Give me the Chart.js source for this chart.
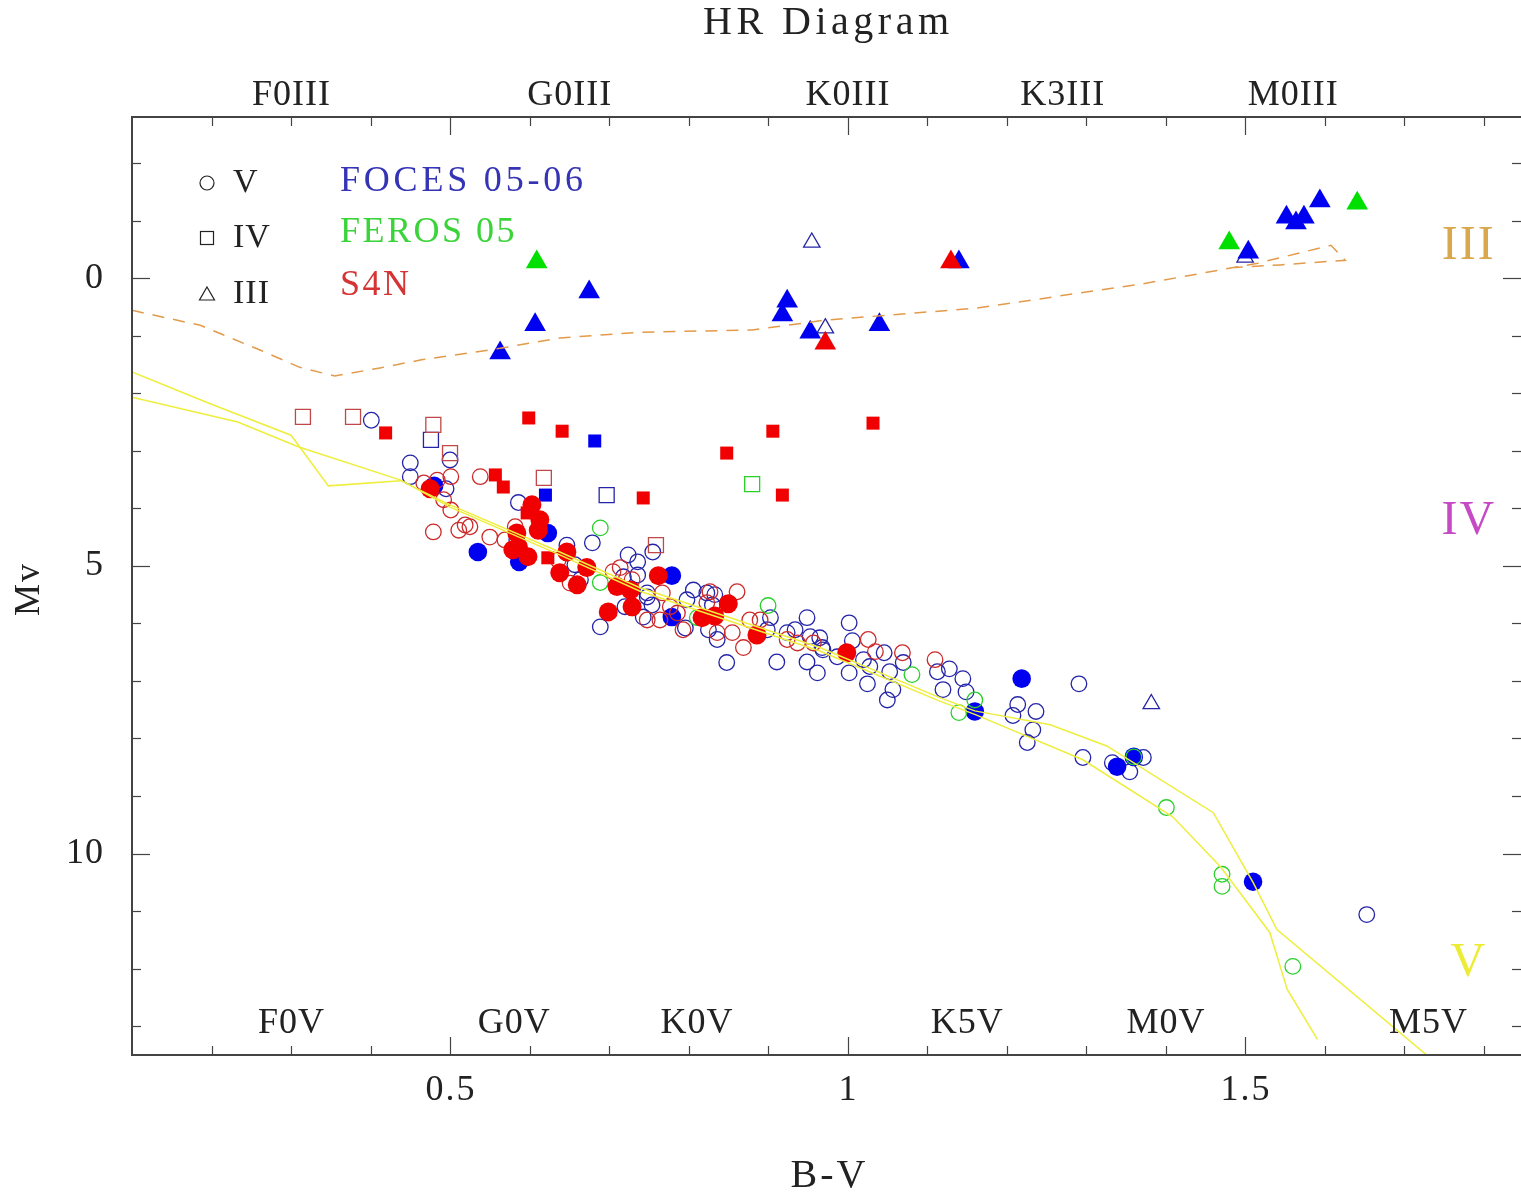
<!DOCTYPE html>
<html><head><meta charset="utf-8">
<script src="https://cdn.jsdelivr.net/npm/chart.js@4.4.1/dist/chart.umd.min.js"></script>
<style>html,body{margin:0;padding:0;background:#fff;overflow:hidden}canvas{display:block}</style>
</head><body>
<canvas id="c" width="1521" height="1195"></canvas>
<script>
// ---------- axis ticks ----------
const xTickValues = [0.2,0.3,0.4,0.5,0.6,0.7,0.8,0.9,1.0,1.1,1.2,1.3,1.4,1.5,1.6,1.7,1.8];
const xMajorTicks = [0.5,1,1.5];
const xTickLabels = ['0.5','1','1.5'];
const yTickValues = [-2,-1,0,1,2,3,4,5,6,7,8,9,10,11,12,13];
const yMajorTicks = [0,5,10];
const yTickLabels = ['0','5','10'];

// spectral-type labels
const giantTypes = ['F0III','G0III','K0III','K3III','M0III'];
const giantTypeBV = [0.30,0.65,1.00,1.27,1.56];
const dwarfTypes = ['F0V','G0V','K0V','K5V','M0V','M5V'];
const dwarfTypeBV = [0.30,0.58,0.81,1.15,1.40,1.73];
const classNames = ['III','IV','V'];
const classMv = [-0.56,4.22,11.9];

// ---------- reference sequences ----------
const msUpperBV = [0.10,0.196,0.30,0.347,0.438,0.50,0.638,0.739,0.965,1.116,1.160,1.255,1.326,1.46,1.51,1.54,1.73];
const msUpperMv = [1.63,2.17,2.73,3.61,3.52,3.94,4.76,5.38,6.42,7.29,7.52,7.76,8.13,9.29,10.50,11.32,13.52];
const msLowerBV = [0.10,0.233,0.309,0.438,0.50,0.638,0.739,0.965,1.116,1.160,1.296,1.409,1.469,1.531,1.553,1.591];
const msLowerMv = [2.07,2.50,2.93,3.51,3.98,4.81,5.44,6.48,7.35,7.58,8.37,9.36,10.23,11.37,12.36,13.23];
const gbBV = [0.10,0.186,0.261,0.311,0.355,0.412,0.464,0.563,0.638,0.739,0.880,0.972,1.163,1.375,1.516,1.608,1.626,1.544,1.48];
const gbMv = [0.56,0.82,1.25,1.55,1.70,1.56,1.42,1.22,1.04,0.94,0.90,0.73,0.52,0.09,-0.26,-0.57,-0.31,-0.23,-0.18];

// ---------- FOCES 05-06 (blue) ----------
const focesOpenV = [[0.401,2.47],[0.450,3.21],[0.450,3.45],[0.500,3.16],[0.495,3.66],[0.586,3.90],[0.584,4.55],[0.647,4.64],[0.679,4.60],[0.657,4.98],[0.664,5.24],[0.724,4.81],[0.736,4.93],[0.755,4.76],[0.718,5.19],[0.736,5.16],[0.748,5.47],[0.720,5.71],[0.689,6.06],[0.806,5.42],[0.798,5.59],[0.823,5.47],[0.833,5.50],[0.830,5.68],[0.748,5.54],[0.754,5.68],[0.743,5.89],[0.796,6.08],[0.825,6.11],[0.836,6.28],[0.848,6.68],[0.903,5.90],[0.899,6.11],[0.911,6.67],[0.924,6.16],[0.934,6.11],[0.949,5.90],[0.953,6.23],[0.965,6.25],[0.968,6.42],[0.949,6.67],[0.962,6.86],[0.987,6.58],[1.002,5.99],[1.006,6.30],[1.020,6.63],[1.002,6.86],[1.025,7.05],[1.028,6.75],[1.046,6.51],[1.053,6.84],[1.057,7.15],[1.050,7.33],[1.070,6.68],[0.969,6.46],[1.113,6.84],[1.120,7.15],[1.128,6.79],[1.145,6.96],[1.149,7.19],[1.214,7.41],[1.208,7.60],[1.237,7.53],[1.233,7.85],[1.226,8.07],[1.291,7.05],[1.296,8.33],[1.333,8.42],[1.355,8.58],[1.372,8.33],[1.653,11.06]];
const focesFilledV = [[0.480,3.61],[0.535,4.76],[0.587,4.93],[0.623,4.43],[0.779,5.17],[0.779,5.89],[1.160,7.53],[1.219,6.96],[1.339,8.49],[1.360,8.32],[1.510,10.49]];
const focesOpenIV = [[0.476,2.81],[0.697,3.77]];
const focesFilledIV = [[0.682,2.83],[0.620,3.77]];
const focesOpenIII = [[0.955,-0.62],[0.972,0.87],[1.500,-0.36],[1.382,7.40]];
const focesFilledIII = [[0.563,1.30],[0.607,0.81],[0.675,0.24],[0.924,0.40],[0.918,0.64],[0.953,0.94],[1.040,0.81],[1.140,-0.28],[1.504,-0.45],[1.552,-1.06],[1.564,-0.96],[1.574,-1.06],[1.594,-1.34]];

// ---------- FEROS 05 (green) ----------
const ferosOpenV = [[0.689,4.34],[0.689,5.29],[0.811,5.90],[0.900,5.69],[1.081,6.89],[1.160,7.33],[1.140,7.55],[1.360,8.32],[1.401,9.20],[1.471,10.36],[1.471,10.57],[1.560,11.96]];
const ferosOpenIV = [[0.880,3.58]];
const ferosFilledIII = [[0.609,-0.28],[1.480,-0.61],[1.641,-1.30]];

// ---------- S4N (red) ----------
const s4nOpenV = [[0.467,3.56],[0.501,3.45],[0.492,3.85],[0.501,4.03],[0.479,4.41],[0.511,4.38],[0.538,3.45],[0.519,4.29],[0.550,4.50],[0.569,4.55],[0.582,4.32],[0.636,4.90],[0.651,5.30],[0.705,5.10],[0.714,5.03],[0.729,5.24],[0.767,5.47],[0.729,5.73],[0.748,5.94],[0.764,5.94],[0.777,5.71],[0.786,5.82],[0.793,6.11],[0.823,5.64],[0.827,5.45],[0.861,5.45],[0.855,6.16],[0.836,6.16],[0.869,6.42],[0.877,5.94],[0.890,5.94],[0.924,6.28],[0.937,6.34],[0.957,6.34],[1.026,6.28],[1.035,6.49],[1.069,6.51],[1.110,6.63],[0.525,4.32],[0.484,3.51]];
const s4nFilledV = [[0.475,3.66],[0.603,3.94],[0.613,4.20],[0.611,4.38],[0.584,4.43],[0.586,4.67],[0.598,4.84],[0.579,4.72],[0.647,4.76],[0.638,5.12],[0.660,5.33],[0.672,5.03],[0.710,5.36],[0.727,5.42],[0.699,5.80],[0.729,5.71],[0.762,5.17],[0.817,5.90],[0.833,5.87],[0.850,5.66],[0.886,6.20],[0.999,6.51]];
const s4nOpenIV = [[0.315,2.41],[0.378,2.41],[0.479,2.55],[0.500,3.04],[0.618,3.47],[0.759,4.64]];
const s4nFilledIV = [[0.419,2.69],[0.599,2.43],[0.641,2.66],[0.557,3.42],[0.567,3.63],[0.743,3.82],[0.848,3.04],[0.906,2.66],[0.918,3.77],[1.032,2.52],[0.597,4.08],[0.623,4.86]];
const s4nFilledIII = [[0.972,1.13],[1.130,-0.28]];

// ---------- styles ----------
const SERIF = '"Liberation Serif","DejaVu Serif",serif';
const C = {
  blueOpen:'#2424a8', blue:'#0000f0',
  greenOpen:'#2ad02a', green:'#00e000',
  redOpen:'#cc2a2a', red:'#f00000', redSq:'#c04848',
  ms:'#eeee3c', gb:'#e39a4a', frame:'#444444', text:'#222222'
};
const pts = a => a.map(p => ({x:p[0], y:p[1]}));
const line = (bx, my) => bx.map((v,i) => ({x:v, y:my[i]}));

function markers(data, style, r, color, filled, order, bw) {
  return {
    type:'scatter', data:pts(data), pointStyle:style, pointRadius:r, pointHoverRadius:r,
    backgroundColor: filled ? color : 'rgba(0,0,0,0)', borderColor: color,
    borderWidth: filled ? 0 : (bw || 1.3), showLine:false, order:order
  };
}
function curve(data, color, dash, order) {
  return {
    type:'scatter', data:data, showLine:true, borderColor:color, borderWidth:1.5,
    borderDash:dash || [], pointRadius:0, pointHoverRadius:0, fill:false, tension:0, order:order
  };
}

const datasets = [
  curve(line(msUpperBV, msUpperMv), C.ms, null, 0),
  curve(line(msLowerBV, msLowerMv), C.ms, null, 0),
  curve(line(gbBV, gbMv), C.gb, [12,9], 0),
  markers(s4nFilledIII, 'triangle', 12.5, C.red, true, 1),
  markers(s4nFilledIV, 'rect', 9.2, C.red, true, 2),
  markers(s4nOpenIV, 'rect', 10.6, C.redSq, false, 2),
  markers(s4nFilledV, 'circle', 9.5, C.red, true, 3),
  markers(s4nOpenV, 'circle', 7.8, C.redOpen, false, 4),
  markers(ferosFilledIII, 'triangle', 12.5, C.green, true, 5),
  markers(ferosOpenIV, 'rect', 10.6, C.greenOpen, false, 5),
  markers(ferosOpenV, 'circle', 7.8, C.greenOpen, false, 5),
  markers(focesFilledIII, 'triangle', 12.5, C.blue, true, 6),
  markers(focesOpenIII, 'triangle', 9.5, C.blueOpen, false, 6),
  markers(focesFilledIV, 'rect', 9.2, C.blue, true, 6),
  markers(focesOpenIV, 'rect', 10.6, C.blueOpen, false, 6),
  markers(focesFilledV, 'circle', 9.3, C.blue, true, 7),
  markers(focesOpenV, 'circle', 7.8, C.blueOpen, false, 8)
];

function text(ctx, s, x, y, size, color, align, spacing) {
  ctx.save();
  ctx.font = size + 'px ' + SERIF;
  ctx.fillStyle = color;
  ctx.textAlign = align || 'center';
  ctx.textBaseline = 'middle';
  if (spacing && 'letterSpacing' in ctx) {
    ctx.letterSpacing = spacing + 'px';
    if ((align || 'center') === 'center') x += spacing / 2;
  }
  ctx.fillText(s, x, y);
  ctx.restore();
}
function seg(ctx, x1, y1, x2, y2) { ctx.beginPath(); ctx.moveTo(x1, y1); ctx.lineTo(x2, y2); ctx.stroke(); }
const isMajor = (v, list) => list.some(m => Math.abs(m - v) < 1e-6);

const decor = {
  id:'hrDecor',
  afterDatasetsDraw(chart) {
    const ctx = chart.ctx, a = chart.chartArea, xs = chart.scales.x, ys = chart.scales.y;
    ctx.save();
    // frame (right edge falls at the canvas border)
    ctx.strokeStyle = C.frame; ctx.lineWidth = 2;
    ctx.beginPath();
    ctx.moveTo(a.right + 2, a.top); ctx.lineTo(a.left, a.top); ctx.lineTo(a.left, a.bottom); ctx.lineTo(a.right + 2, a.bottom);
    ctx.stroke();
    ctx.lineWidth = 1.2;
    xTickValues.forEach(v => {
      const p = Math.round(xs.getPixelForValue(v)) + 0.5;
      const L = isMajor(v, xMajorTicks) ? 18 : 9;
      seg(ctx, p, a.bottom, p, a.bottom - L);
      seg(ctx, p, a.top, p, a.top + L);
    });
    yTickValues.forEach(v => {
      const p = Math.round(ys.getPixelForValue(v)) + 0.5;
      const L = isMajor(v, yMajorTicks) ? 18 : 9;
      seg(ctx, a.left, p, a.left + L, p);
      seg(ctx, a.right, p, a.right - L, p);
    });
    ctx.restore();
    // tick labels
    xMajorTicks.forEach((v, i) => text(ctx, xTickLabels[i], xs.getPixelForValue(v), a.bottom + 36, 36, C.text, 'center', 2));
    yMajorTicks.forEach((v, i) => text(ctx, yTickLabels[i], a.left - 28, ys.getPixelForValue(v), 36, C.text, 'right', 1));
    // axis titles & title
    text(ctx, 'B-V', 828, 1176, 40, C.text, 'center', 3);
    ctx.save();
    ctx.translate(30, 590); ctx.rotate(-Math.PI / 2);
    text(ctx, 'Mv', 0, 0, 36, C.text, 'center', 2);
    ctx.restore();
    text(ctx, 'HR Diagram', 826, 23, 40, C.text, 'center', 4.5);
    // spectral type labels
    giantTypes.forEach((s, i) => text(ctx, s, xs.getPixelForValue(giantTypeBV[i]), 96, 36, C.text, 'center', 1));
    dwarfTypes.forEach((s, i) => text(ctx, s, xs.getPixelForValue(dwarfTypeBV[i]), a.bottom - 31, 36, C.text, 'center', 1));
    const classColors = ['#d9a84c', '#c64ac6', '#ecec34'];
    classNames.forEach((s, i) => text(ctx, s, xs.getPixelForValue(1.78), ys.getPixelForValue(classMv[i]), 48, classColors[i], 'center', 2));
    // legend
    ctx.save();
    ctx.strokeStyle = C.text; ctx.lineWidth = 1.2;
    ctx.beginPath(); ctx.arc(207, 183, 7, 0, Math.PI * 2); ctx.stroke();
    ctx.strokeRect(200.5, 231.5, 13, 13);
    ctx.beginPath(); ctx.moveTo(207, 287); ctx.lineTo(214.5, 300); ctx.lineTo(199.5, 300); ctx.closePath(); ctx.stroke();
    ctx.restore();
    text(ctx, 'V', 233, 183, 34, C.text, 'left', 1);
    text(ctx, 'IV', 233, 238, 34, C.text, 'left', 1);
    text(ctx, 'III', 233, 294, 34, C.text, 'left', 1);
    text(ctx, 'FOCES 05-06', 340, 182, 36, '#3434b4', 'left', 3.8);
    text(ctx, 'FEROS 05', 340, 233, 36, '#3ad43a', 'left', 2.5);
    text(ctx, 'S4N', 340, 286, 36, '#d43434', 'left', 2.5);
  }
};

new Chart(document.getElementById('c'), {
  type:'scatter',
  data:{ datasets },
  options:{
    responsive:false, animation:false, devicePixelRatio:1,
    layout:{ autoPadding:false, padding:{ left:132, top:117, right:0, bottom:140 } },
    plugins:{ legend:{display:false}, tooltip:{enabled:false}, title:{display:false} },
    scales:{
      x:{ type:'linear', min:0.1, max:1.847, display:false },
      y:{ type:'linear', min:-2.8, max:13.5, reverse:true, display:false }
    }
  },
  plugins:[decor]
});
</script>
</body></html>
